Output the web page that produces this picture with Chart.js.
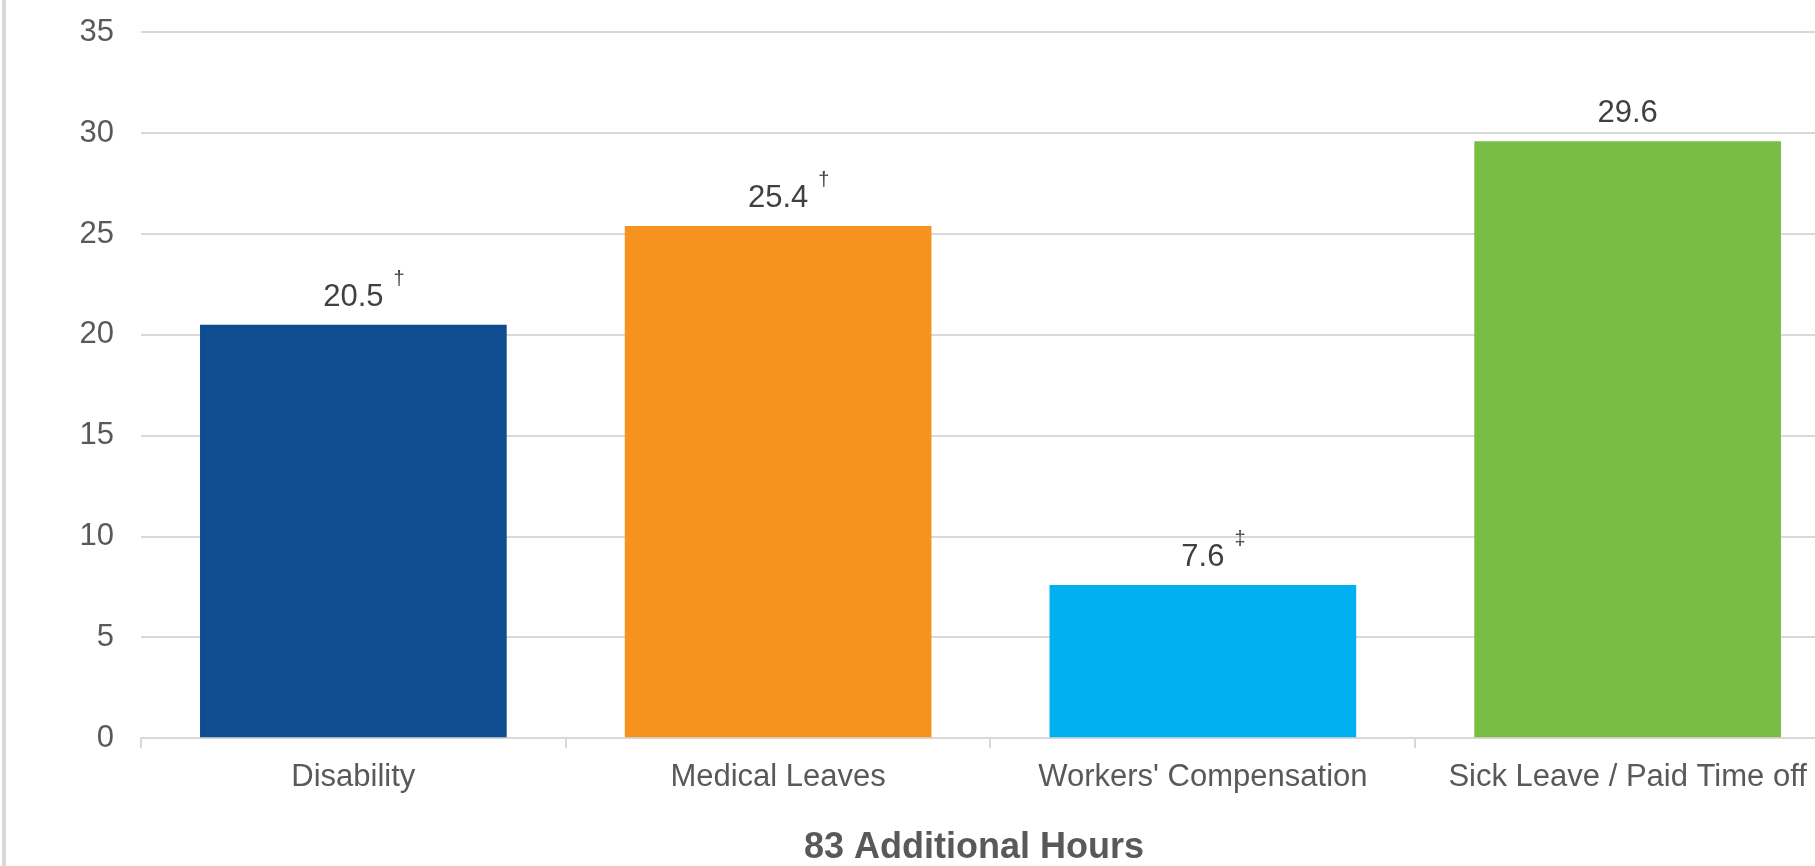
<!DOCTYPE html>
<html>
<head>
<meta charset="utf-8">
<script src="https://cdn.jsdelivr.net/npm/chart.js@4/dist/chart.umd.min.js"></script>
<style>
    html, body { margin: 0; padding: 0; background: #fff; overflow: hidden; }
    .frame { position: relative; width: 1815px; height: 866px; overflow: hidden; }
    .frame .edge { position: absolute; left: 2px; top: 0; width: 4px; height: 866px; background: #d9d9d9; }
    canvas { position: absolute; left: 0; top: 0; }
</style>
</head>
<body>
<div class="frame">
    <canvas id="hoursChart" width="1900" height="866"></canvas>
    <div class="edge"></div>
</div>
<script>
// Data
const categories = ['Disability', 'Medical Leaves', "Workers' Compensation", 'Sick Leave / Paid Time off'];
const hours = [20.5, 25.4, 7.6, 29.6];
const notes = ['\u2020', '\u2020', '\u2021', ''];
const yTicks = [0, 5, 10, 15, 20, 25, 30, 35];
const chartTitle = '83 Additional Hours';

const barColors = ['#0F4C90', '#F6921E', '#00B0F0', '#79BD44'];
const FONT = '"Liberation Sans", Arial, sans-serif';

// value + dagger labels above each bar
const valueLabels = {
    id: 'valueLabels',
    afterDatasetsDraw(chart) {
        const ctx = chart.ctx;
        const meta = chart.getDatasetMeta(0);
        meta.data.forEach((bar, i) => {
            const text = hours[i].toFixed(1);
            const y = bar.y - 19;
            ctx.save();
            ctx.font = `31px ${FONT}`;
            ctx.fillStyle = '#404040';
            ctx.textAlign = 'center';
            ctx.textBaseline = 'alphabetic';
            ctx.fillText(text, bar.x, y);
            if (notes[i]) {
                const w = ctx.measureText(text).width;
                ctx.font = `20px ${FONT}`;
                ctx.textAlign = 'left';
                ctx.fillText(notes[i], bar.x + w / 2 + 10, y - 21);
            }
            ctx.restore();
        });
    }
};

const ctx = document.getElementById('hoursChart').getContext('2d');
new Chart(ctx, {
    type: 'bar',
    data: {
        labels: categories,
        datasets: [{
            data: hours,
            backgroundColor: barColors,
            borderWidth: 0,
            categoryPercentage: 1.0,
            barPercentage: 0.722
        }]
    },
    options: {
        responsive: false,
        animation: false,
        layout: {
            padding: { left: 52.5, right: 4.5, top: 32.3, bottom: 0 }
        },
        plugins: {
            legend: { display: false },
            tooltip: { enabled: false },
            title: {
                display: true,
                text: chartTitle,
                position: 'bottom',
                color: '#595959',
                font: { family: FONT, size: 36, weight: 'bold', lineHeight: 1 },
                padding: { top: 22.5, bottom: 0 }
            }
        },
        scales: {
            x: {
                grid: {
                    display: true,
                    drawOnChartArea: false,
                    drawTicks: true,
                    tickLength: 10,
                    color: '#d9d9d9',
                    lineWidth: 2
                },
                border: { display: true, color: '#d9d9d9', width: 2 },
                ticks: {
                    color: '#595959',
                    font: { family: FONT, size: 31 },
                    padding: 11,
                    maxRotation: 0,
                    autoSkip: false
                }
            },
            y: {
                min: 0,
                max: 35,
                afterBuildTicks: (scale) => {
                    scale.ticks = yTicks.map(v => ({ value: v }));
                },
                grid: {
                    color: '#d9d9d9',
                    lineWidth: 2,
                    drawTicks: false
                },
                border: { display: false },
                ticks: {
                    color: '#595959',
                    // small line height keeps the axis from pushing the plot top down
                    font: { family: FONT, size: 31, lineHeight: 0.3 },
                    padding: 27
                }
            },
            // empty right-hand strip so the bottom title sits where the original did
            spacer: {
                type: 'linear',
                position: 'right',
                display: true,
                grid: { display: false, drawTicks: false },
                border: { display: false },
                ticks: { display: false },
                afterFit: (scale) => { scale.width = 55.5; }
            }
        }
    },
    plugins: [valueLabels]
});
</script>
</body>
</html>
